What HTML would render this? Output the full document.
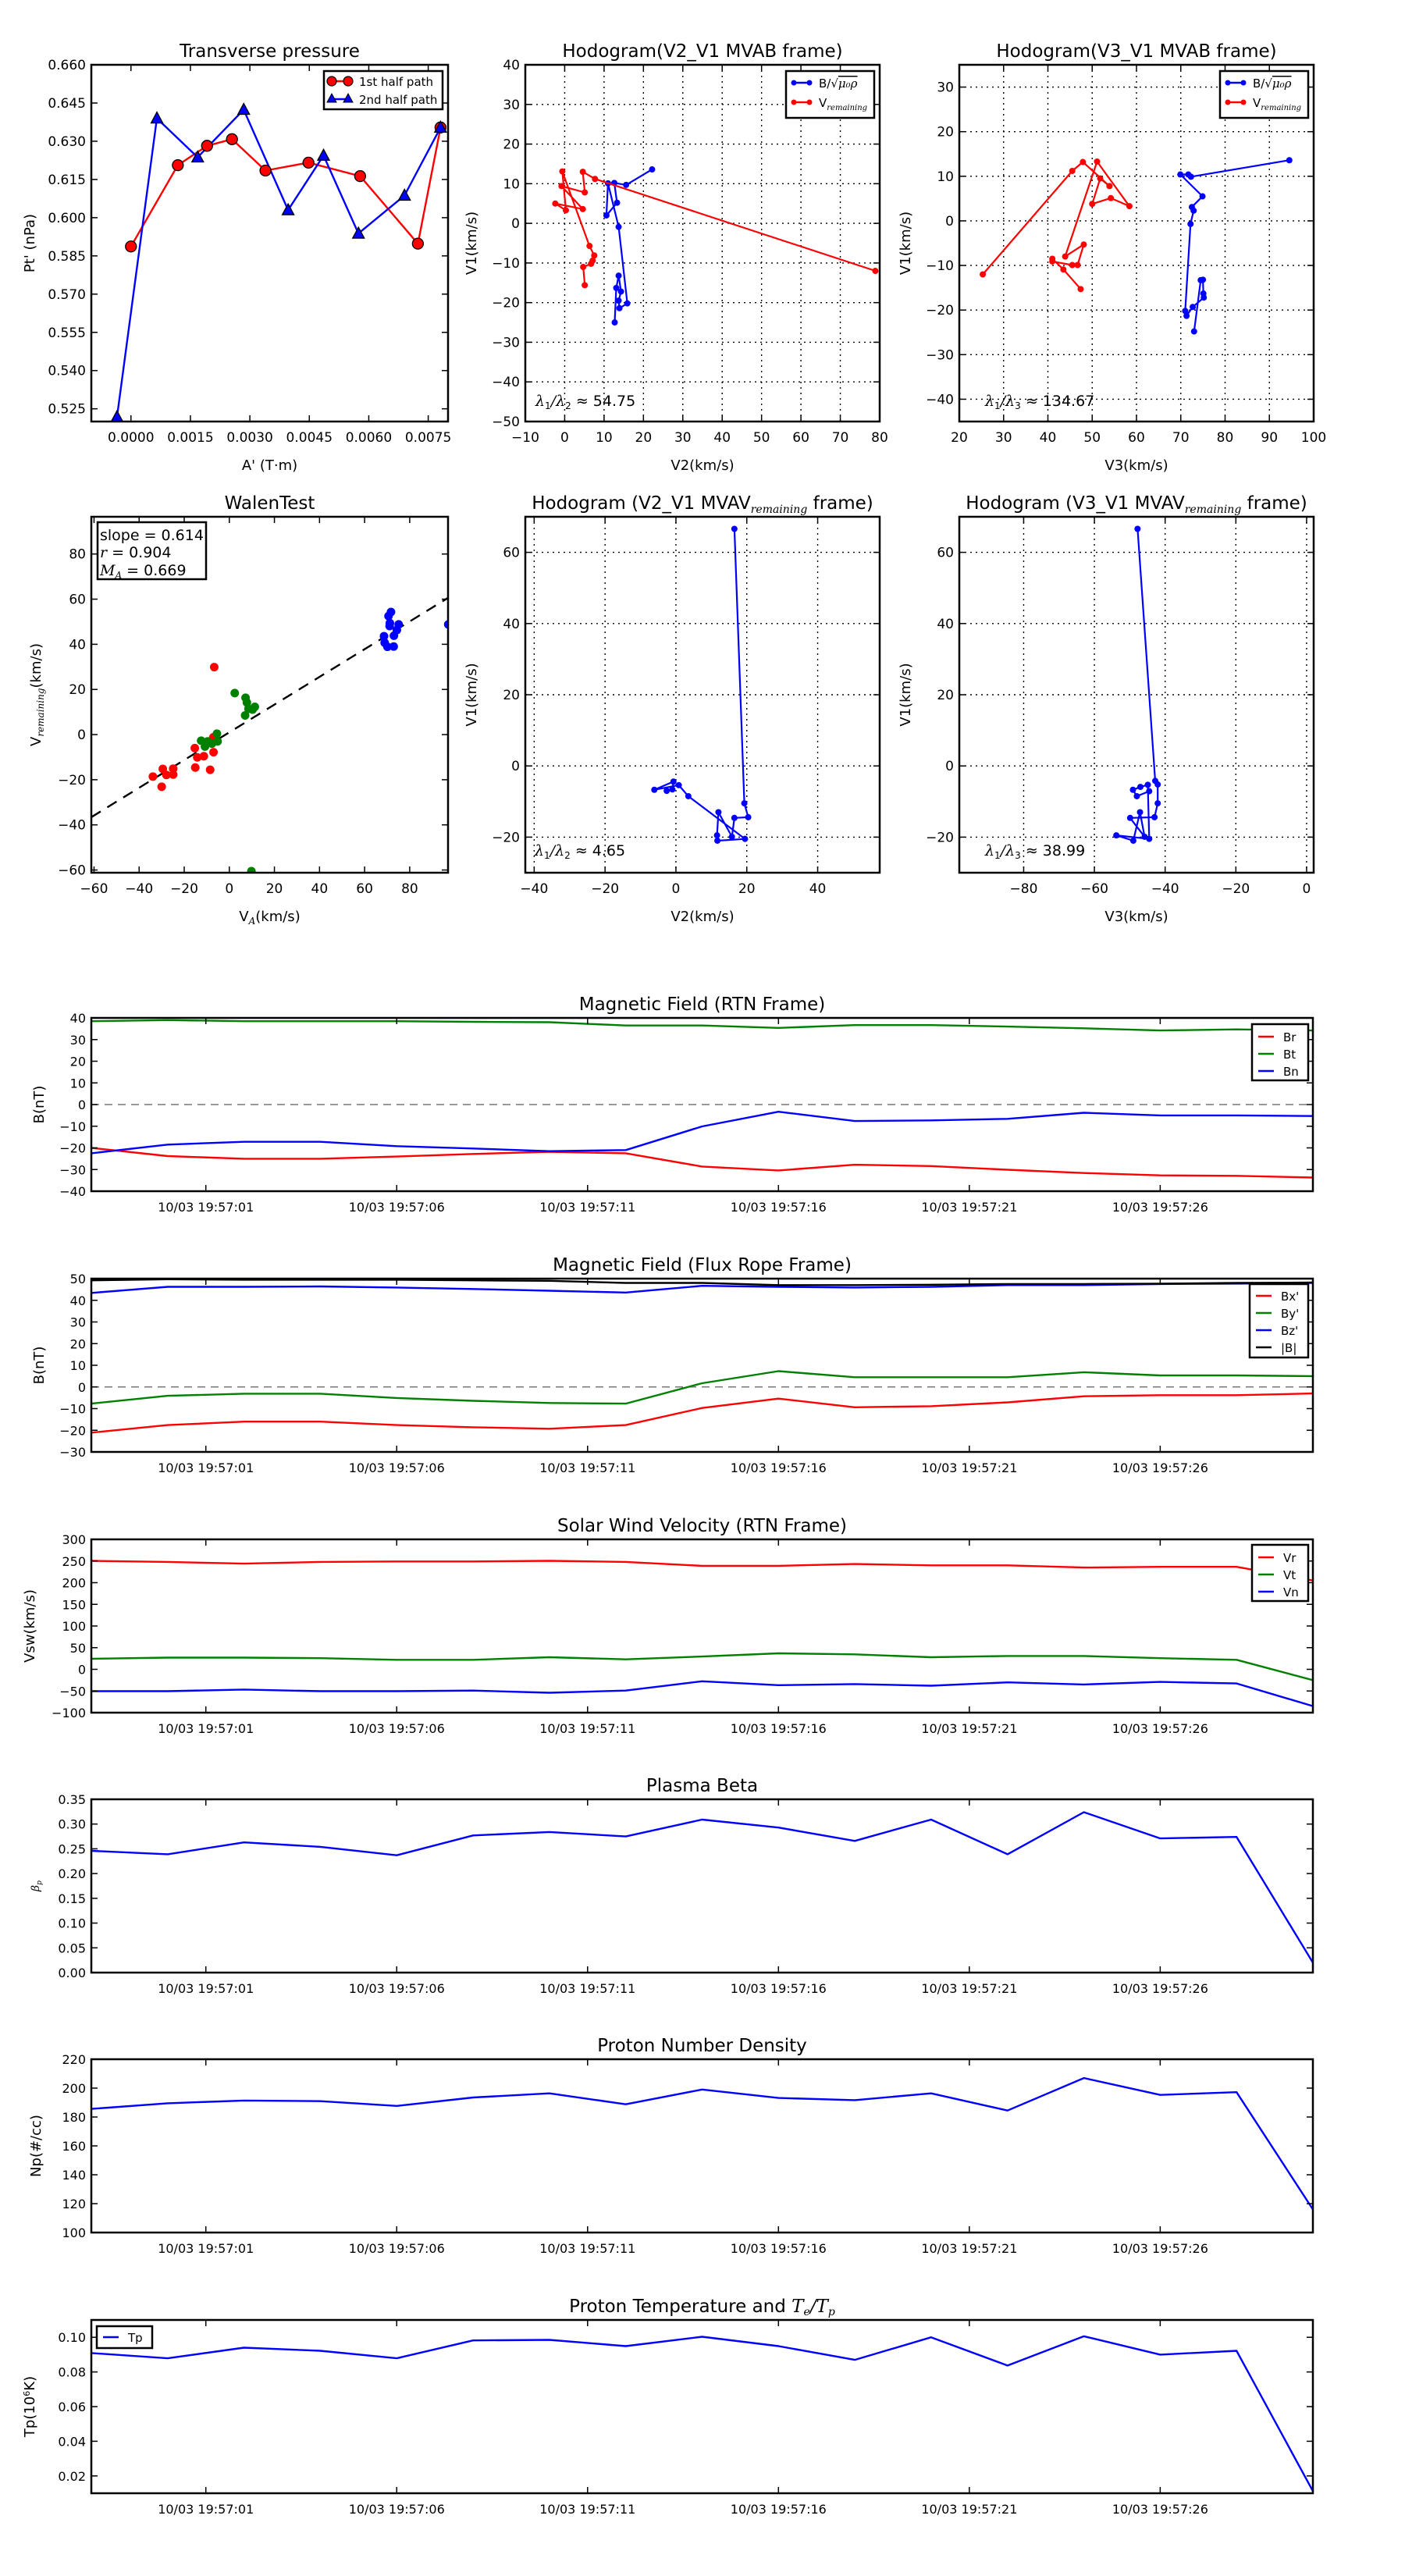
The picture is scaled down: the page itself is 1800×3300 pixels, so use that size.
<!DOCTYPE html>
<html><head><meta charset="utf-8"><title>Flux rope analysis</title>
<style>
html,body{margin:0;padding:0;background:#fff;}
svg{display:block;}
text{font-family:"DejaVu Sans","Liberation Sans",sans-serif;fill:#000;}
.m{font-family:"DejaVu Serif","Liberation Serif",serif;font-style:italic;}
</style></head>
<body>
<svg id="fig" xmlns="http://www.w3.org/2000/svg" width="1800" height="3300" viewBox="0 0 1800 3300">
<rect x="0" y="0" width="1800" height="3300" fill="#fff"/>
</svg>
<script>
// ---------- DATA ----------
const p1RedX=[0,0.001183,0.00192,0.002549,0.003394,0.004479,0.005782,0.007239,0.00781];
const p1RedY=[0.5887,0.6206,0.6282,0.6308,0.6185,0.6216,0.6163,0.5898,0.6354];
const p1BlueX=[-0.000352,0.000655,0.001683,0.002845,0.003965,0.004859,0.00574,0.006901,0.00781];
const p1BlueY=[0.5218,0.639,0.6237,0.6424,0.603,0.6244,0.5938,0.6087,0.6354];
const p2BX=[22.2,15.6,12.6,13.3,10.6,11.0,13.7,15.9,13.9,13.7,14.3,13.7,13.1,12.7];
const p2BY=[13.6,9.7,10.2,5.2,2.0,10.1,-0.9,-20.2,-21.4,-19.5,-17.2,-13.2,-16.3,-25.0];
const p2VX=[78.9,7.7,4.6,5.1,-0.8,4.6,-2.4,0.3,-0.6,6.3,7.5,7.1,6.7,4.7,5.1];
const p2VY=[-12.0,11.2,13.0,7.8,9.4,3.6,5.0,3.3,13.1,-5.7,-8.1,-9.4,-10.2,-11.0,-15.6];
const p3BX=[94.5,72.3,71.7,69.9,74.9,72.5,72.9,72.2,71.0,71.3,72.7,75.2,75.1,75.0,74.5,73.0];
const p3BY=[13.6,9.9,10.4,10.4,5.5,3.1,2.3,-0.7,-20.2,-21.3,-19.3,-17.2,-16.3,-13.2,-13.3,-24.8];
const p3VX=[25.3,45.5,47.9,53.9,51.8,50.0,54.2,58.4,51.1,43.9,48.1,46.7,45.5,41.0,41.0,43.5,47.4];
const p3VY=[-12.0,11.2,13.2,7.8,9.5,3.8,5.1,3.3,13.3,-8.0,-5.3,-9.9,-9.9,-9.1,-8.5,-10.9,-15.3];
const wRedX=[-6.7,-33.9,-30,-29.5,-27.9,-24.9,-24.9,-15.3,-15.1,-14.2,-11.3,-8.5,-7,-7.1];
const wRedY=[29.9,-18.6,-23.1,-15.2,-17.9,-15.1,-17.7,-6,-14.6,-10.1,-9.6,-15.6,-7.8,-1.2];
const wGreenX=[2.4,7.2,7.8,7,8.5,11.3,10.3,-12.5,-10.8,-9.6,-7.7,-5.5,-5.2,9.8];
const wGreenY=[18.4,16.3,14.2,8.5,11.4,12.3,11.1,-2.7,-5.3,-3,-4,0.4,-3,-60.5];
const wBlueX=[71.7,70.6,71.2,71.1,75.1,74.3,73,68.6,68.9,70.1,72.9,97.1];
const wBlueY=[54.3,52.5,49.4,48.1,48.8,46.3,43.8,43.6,40.7,38.9,39,48.8];
const wSlope=0.614, wIntercept=1.0;
const p5X=[16.5,19.3,20.4,16.5,15.8,12.0,11.6,11.7,19.5,3.5,0.8,-6.1,-0.7,-1.0,-2.6];
const p5Y=[66.6,-10.5,-14.4,-14.6,-19.9,-13.0,-19.5,-21.0,-20.5,-8.5,-5.4,-6.7,-4.4,-6.6,-7.0];
const p6X=[-47.8,-42.8,-42.1,-42.1,-43.0,-49.9,-45.8,-47.1,-49.0,-53.8,-44.5,-44.9,-47.0,-49.1,-48.0,-44.5];
const p6Y=[66.6,-4.2,-5.2,-10.5,-14.4,-14.6,-19.9,-13.0,-21.0,-19.5,-20.5,-5.3,-5.9,-6.7,-8.5,-7.1];
const tSec=[0,2,4,6,8,10,12,14,16,18,20,22,24,26,28,30,32];
const timeTicks=[3,8,13,18,23,28];
const timeLabels=["10/03 19:57:01","10/03 19:57:06","10/03 19:57:11","10/03 19:57:16","10/03 19:57:21","10/03 19:57:26"];
const Br=[-20,-23.8,-25,-25,-24,-22.8,-21.8,-22.5,-28.6,-30.4,-27.8,-28.4,-30.1,-31.6,-32.7,-32.9,-33.7];
const Bt=[38.5,39,38.5,38.5,38.5,38.2,38,36.5,36.5,35.4,36.7,36.7,36,35.2,34.2,34.7,34.2];
const Bn=[-22.5,-18.5,-17.2,-17.2,-19.2,-20.3,-21.5,-21,-10.1,-3.3,-7.6,-7.3,-6.6,-3.8,-5,-5,-5.3];
const Bx1=[-21.1,-17.6,-16,-16,-17.6,-18.6,-19.3,-17.6,-9.7,-5.4,-9.4,-8.9,-7.1,-4.3,-3.8,-3.8,-3];
const By1=[-7.7,-4.1,-3.1,-3.1,-5.1,-6.4,-7.4,-7.7,1.7,7.3,4.5,4.5,4.5,6.8,5.3,5.3,5];
const Bz1=[43.4,46.2,46.2,46.4,45.9,45.2,44.4,43.6,46.7,46.2,45.9,46.2,47,47,47.5,47.7,48];
const Bmag=[49.2,49.7,49.5,49.5,49.5,49.2,49,48,48,47,47,47.2,47.5,47.5,47.7,48,48.2];
const Vr=[250.5,248,244,248,249,249,250.5,248,239,239,243,240,240,235,236.5,236.5,205];
const Vt=[24.4,27,27,25.7,22,22,28,23,29.5,37,34.6,28,30.8,30.8,25.7,22,-25];
const Vn=[-50.5,-50.5,-46.7,-50.5,-50.5,-49,-54,-49,-27.6,-36.5,-34,-37.8,-30,-35,-29,-32.7,-84.8];
const beta=[0.246,0.239,0.263,0.254,0.237,0.277,0.284,0.275,0.309,0.293,0.266,0.309,0.239,0.324,0.271,0.274,0.02];
const Np=[185.6,189.5,191.4,191,187.7,193.5,196.4,188.8,199,193.2,191.7,196.4,184.5,207,195.3,197.2,116];
const Tp=[0.0909,0.0879,0.094,0.0922,0.0879,0.0982,0.0985,0.0949,0.1003,0.0949,0.087,0.1,0.0837,0.1006,0.09,0.0922,0.0112];

// ---------- HELPERS ----------
const NS='http://www.w3.org/2000/svg';
const fig=document.getElementById('fig');
let clipN=0;
function mk(tag,parent,attrs){const e=document.createElementNS(NS,tag);for(const k in attrs)e.setAttribute(k,attrs[k]);parent.appendChild(e);return e;}
function fmtMinus(s){return String(s).replace('-','\u2212');}
function txt(parent,x,y,s,size,anchor){const t=mk('text',parent,{x:x,y:y,'font-size':size,'text-anchor':anchor||'middle'});t.textContent=s;return t;}

function axes(c){
  const g=mk('g',fig,{});
  
  
  const sx=v=>c.x0+(v-c.xr[0])/(c.xr[1]-c.xr[0])*(c.x1-c.x0);
  const sy=v=>c.y1-(v-c.yr[0])/(c.yr[1]-c.yr[0])*(c.y1-c.y0);
  const id='clip'+(clipN++);
  const cp=mk('clipPath',g,{id:id});
  mk('rect',cp,{x:c.x0,y:c.y0,width:c.x1-c.x0,height:c.y1-c.y0});
  const gridG=mk('g',g,{});
  
  
  const dataG=mk('g',g,{'clip-path':'url(#'+id+')'});
  
  
  const frameG=mk('g',g,{});
  c.xticks.forEach((v,i)=>{
    const x=sx(v);
    if(c.grid){const gl=mk('line',gridG,{x1:x,x2:x,y1:c.y0,y2:c.y1,stroke:'#000','stroke-width':1.4,'stroke-dasharray':'2,5'});}
    mk('line',frameG,{x1:x,x2:x,y1:c.y1,y2:c.y1-8,stroke:'#000','stroke-width':1.5});
    mk('line',frameG,{x1:x,x2:x,y1:c.y0,y2:c.y0+8,stroke:'#000','stroke-width':1.5});
    const t=txt(frameG,x,c.y1+26,c.xlabels[i],c.tickSize||17,'middle');
    
  });
  c.yticks.forEach((v,i)=>{
    const y=sy(v);
    if(c.grid){const gl=mk('line',gridG,{x1:c.x0,x2:c.x1,y1:y,y2:y,stroke:'#000','stroke-width':1.4,'stroke-dasharray':'2,5'});}
    mk('line',frameG,{x1:c.x0,x2:c.x0+8,y1:y,y2:y,stroke:'#000','stroke-width':1.5});
    mk('line',frameG,{x1:c.x1,x2:c.x1-8,y1:y,y2:y,stroke:'#000','stroke-width':1.5});
    const t=txt(frameG,c.x0-7,y+6,c.ylabels[i],c.tickSize||17,'end');
    
  });
  const fr=mk('rect',frameG,{x:c.x0,y:c.y0,width:c.x1-c.x0,height:c.y1-c.y0,fill:'none',stroke:'#000','stroke-width':2.5});
  
  if(c.title){const t=mk('text',frameG,{x:(c.x0+c.x1)/2,y:c.y0-10,'font-size':23,'text-anchor':'middle'});t.innerHTML=c.title;}
  if(c.xlabel){const t=mk('text',frameG,{x:(c.x0+c.x1)/2,y:c.y1+62,'font-size':18,'text-anchor':'middle'});t.innerHTML=c.xlabel;}
  if(c.ylabel){const cy=(c.y0+c.y1)/2;const t=mk('text',frameG,{x:c.ylx,y:cy,'font-size':c.ylsize||18,'text-anchor':'middle',transform:'rotate(-90 '+c.ylx+' '+cy+')'});t.innerHTML=c.ylabel;}
  return {sx,sy,g,dataG,frameG};
}
function range(a,b,s){const r=[];for(let v=a;v<=b+1e-9;v+=s)r.push(+v.toFixed(6));return r;}
function line(A,xs,ys,color,w,name){
  const pts=xs.map((x,i)=>A.sx(x).toFixed(1)+','+A.sy(ys[i]).toFixed(1)).join(' ');
  const p=mk('polyline',A.dataG,{points:pts,fill:'none',stroke:color,'stroke-width':w||2.4,'stroke-linejoin':'round'});
  
  
  return p;
}
function dots(A,xs,ys,color,r,name,stroke){
  xs.forEach((x,i)=>{
    const c=mk('circle',A.dataG,{cx:A.sx(x),cy:A.sy(ys[i]),r:r,fill:color,stroke:stroke||'none','stroke-width':1.3});
    
    
  });
}
function tris(A,xs,ys,color,name){
  xs.forEach((x,i)=>{
    const cx=A.sx(x),cy=A.sy(ys[i]);
    const p=mk('path',A.dataG,{d:'M'+cx+','+(cy-8)+' L'+(cx+7.5)+','+(cy+6)+' L'+(cx-7.5)+','+(cy+6)+' Z',fill:color,stroke:'#000','stroke-width':1.3});
    
    
  });
}
function legendBox(parent,x,y,w,h,name){
  const g=mk('g',parent,{});
  
  
  mk('rect',g,{x:x,y:y,width:w,height:h,fill:'#fff',stroke:'#000','stroke-width':2.5});
  return g;
}
function legendItem(g,x,y,color,label,size,w,marker){
  mk('line',g,{x1:x,x2:x+(w||20),y1:y,y2:y,stroke:color,'stroke-width':2.4});
  if(marker==='dot'){mk('circle',g,{cx:x,cy:y,r:3.5,fill:color});mk('circle',g,{cx:x+w,cy:y,r:3.5,fill:color});}
  const t=mk('text',g,{x:x+(w||20)+12,y:y+6,'font-size':size||16});
  t.innerHTML=label;
  
  
}
const fmt=(d)=>(v=>fmtMinus(v.toFixed(d)));

// ---------- PANEL 1 ----------
{
  const xt=range(0,0.0075,0.0015), yt=range(0.525,0.66,0.015);
  const A=axes({name:'transverse-pressure-chart',x0:117,y0:83,x1:574,y1:540,xr:[-0.001,0.008],yr:[0.52,0.66],
    xticks:xt,xlabels:xt.map(fmt(4)),yticks:yt,ylabels:yt.map(fmt(3)),title:'Transverse pressure',xlabel:"A' (T·m)",ylabel:"Pt' (nPa)",ylx:44});
  line(A,p1RedX,p1RedY,'#ff0000',2.4,'first-half-path-line');
  line(A,p1BlueX,p1BlueY,'#0000ff',2.4,'second-half-path-line');
  dots(A,p1RedX,p1RedY,'#ff0000',7,'first-half-marker','#000');
  tris(A,p1BlueX,p1BlueY,'#0000ff','second-half-marker');
  const L=legendBox(A.frameG,415,91,152,49,'pressure-legend');
  mk('line',L,{x1:425,x2:446,y1:104,y2:104,stroke:'#ff0000','stroke-width':2.4});
  mk('circle',L,{cx:425,cy:104,r:6,fill:'#ff0000',stroke:'#000','stroke-width':1.2});
  mk('circle',L,{cx:446,cy:104,r:6,fill:'#ff0000',stroke:'#000','stroke-width':1.2});
  mk('line',L,{x1:425,x2:446,y1:127,y2:127,stroke:'#0000ff','stroke-width':2.4});
  mk('path',L,{d:'M425,120 L431,131 L419,131 Z',fill:'#0000ff',stroke:'#000','stroke-width':1});
  mk('path',L,{d:'M446,120 L452,131 L440,131 Z',fill:'#0000ff',stroke:'#000','stroke-width':1});
  const a=txt(L,460,110,'1st half path',15,'start');
  const b=txt(L,460,133,'2nd half path',15,'start');
}
// ---------- PANEL 2 ----------
{
  const xt=range(-10,80,10), yt=range(-50,40,10);
  const A=axes({name:'hodogram-v2-v1-mvab',x0:673,y0:83,x1:1127,y1:540,xr:[-10,80],yr:[-50,40],grid:true,
    xticks:xt,xlabels:xt.map(fmt(0)),yticks:yt,ylabels:yt.map(fmt(0)),title:'Hodogram(V2_V1 MVAB frame)',xlabel:'V2(km/s)',ylabel:'V1(km/s)',ylx:610});
  line(A,p2BX,p2BY,'#0000ff',2.2,'b-alfven-path');dots(A,p2BX,p2BY,'#0000ff',4,'b-alfven-point');
  line(A,p2VX,p2VY,'#ff0000',2.2,'v-remaining-path');dots(A,p2VX,p2VY,'#ff0000',4,'v-remaining-point');
  const L=legendBox(A.frameG,1007,91,113,60,'hodogram-legend');
  legendItem(L,1017,106,'#0000ff','B/√<tspan class="m" text-decoration="overline">μ₀ρ</tspan>',15,20,'dot');
  legendItem(L,1017,131,'#ff0000','V<tspan class="m" font-size="10" dy="4">remaining</tspan>',15,20,'dot');
  const t=mk('text',A.frameG,{x:686,y:520,'font-size':19});t.innerHTML='<tspan class="m">λ</tspan><tspan font-size="12" dy="4">1</tspan><tspan dy="-4" class="m">/λ</tspan><tspan font-size="12" dy="4">2</tspan><tspan dy="-4"> ≈ 54.75</tspan>';
  
}
// ---------- PANEL 3 ----------
{
  const xt=range(20,100,10), yt=range(-40,30,10);
  const A=axes({name:'hodogram-v3-v1-mvab',x0:1229,y0:83,x1:1683,y1:540,xr:[20,100],yr:[-45,35],grid:true,
    xticks:xt,xlabels:xt.map(fmt(0)),yticks:yt,ylabels:yt.map(fmt(0)),title:'Hodogram(V3_V1 MVAB frame)',xlabel:'V3(km/s)',ylabel:'V1(km/s)',ylx:1166});
  line(A,p3BX,p3BY,'#0000ff',2.2,'b-alfven-path');dots(A,p3BX,p3BY,'#0000ff',4,'b-alfven-point');
  line(A,p3VX,p3VY,'#ff0000',2.2,'v-remaining-path');dots(A,p3VX,p3VY,'#ff0000',4,'v-remaining-point');
  const L=legendBox(A.frameG,1563,91,113,60,'hodogram-legend');
  legendItem(L,1573,106,'#0000ff','B/√<tspan class="m" text-decoration="overline">μ₀ρ</tspan>',15,20,'dot');
  legendItem(L,1573,131,'#ff0000','V<tspan class="m" font-size="10" dy="4">remaining</tspan>',15,20,'dot');
  const t=mk('text',A.frameG,{x:1262,y:520,'font-size':19});t.innerHTML='<tspan class="m">λ</tspan><tspan font-size="12" dy="4">1</tspan><tspan dy="-4" class="m">/λ</tspan><tspan font-size="12" dy="4">3</tspan><tspan dy="-4"> ≈ 134.67</tspan>';
  
}
// ---------- WALEN ----------
{
  const xt=range(-60,80,20), yt=range(-60,80,20);
  const A=axes({name:'walen-test-chart',x0:117,y0:662,x1:574,y1:1118,xr:[-61.2,97],yr:[-61.2,96.5],
    xticks:xt,xlabels:xt.map(fmt(0)),yticks:yt,ylabels:yt.map(fmt(0)),title:'WalenTest',xlabel:'V<tspan class="m" font-size="12" dy="4">A</tspan><tspan dy="-4">(km/s)</tspan>',ylabel:'V<tspan class="m" font-size="12" dy="4">remaining</tspan><tspan dy="-4">(km/s)</tspan>',ylx:52});
  const fl=mk('line',A.dataG,{x1:A.sx(-61.2),y1:A.sy(wSlope*-61.2+wIntercept),x2:A.sx(97),y2:A.sy(wSlope*97+wIntercept),stroke:'#000','stroke-width':2.4,'stroke-dasharray':'14,10'});
  
  dots(A,wRedX,wRedY,'#ff0000',5.5,'walen-point-red');
  dots(A,wGreenX,wGreenY,'#008000',5.5,'walen-point-green');
  dots(A,wBlueX,wBlueY,'#0000ff',5.5,'walen-point-blue');
  const L=legendBox(A.frameG,125,669,139,73,'walen-stats-box');
  txt(L,128,692,'slope = 0.614',19,'start');
  const r=mk('text',L,{x:128,y:714,'font-size':19});r.innerHTML='<tspan class="m">r</tspan> = 0.904';
  const m=mk('text',L,{x:128,y:737,'font-size':19});m.innerHTML='<tspan class="m">M</tspan><tspan class="m" font-size="12" dy="4">A</tspan><tspan dy="-4"> = 0.669</tspan>';
}
// ---------- PANEL 5 ----------
{
  const xt=range(-40,40,20), yt=range(-20,60,20);
  const A=axes({name:'hodogram-v2-v1-mvav',x0:673,y0:662,x1:1127,y1:1118,xr:[-42.5,57.5],yr:[-30,70],grid:true,
    xticks:xt,xlabels:xt.map(fmt(0)),yticks:yt,ylabels:yt.map(fmt(0)),title:'Hodogram (V2_V1 MVAV<tspan class="m" font-size="14" dy="5">remaining</tspan><tspan dy="-5"> frame)</tspan>',xlabel:'V2(km/s)',ylabel:'V1(km/s)',ylx:610});
  line(A,p5X,p5Y,'#0000ff',2.2,'hodogram-path');dots(A,p5X,p5Y,'#0000ff',4,'hodogram-point');
  const t=mk('text',A.frameG,{x:685,y:1096,'font-size':19});t.innerHTML='<tspan class="m">λ</tspan><tspan font-size="12" dy="4">1</tspan><tspan dy="-4" class="m">/λ</tspan><tspan font-size="12" dy="4">2</tspan><tspan dy="-4"> ≈ 4.65</tspan>';
  
}
// ---------- PANEL 6 ----------
{
  const xt=range(-80,0,20), yt=range(-20,60,20);
  const A=axes({name:'hodogram-v3-v1-mvav',x0:1229,y0:662,x1:1683,y1:1118,xr:[-98.2,2],yr:[-30,70],grid:true,
    xticks:xt,xlabels:xt.map(fmt(0)),yticks:yt,ylabels:yt.map(fmt(0)),title:'Hodogram (V3_V1 MVAV<tspan class="m" font-size="14" dy="5">remaining</tspan><tspan dy="-5"> frame)</tspan>',xlabel:'V3(km/s)',ylabel:'V1(km/s)',ylx:1166});
  line(A,p6X,p6Y,'#0000ff',2.2,'hodogram-path');dots(A,p6X,p6Y,'#0000ff',4,'hodogram-point');
  const t=mk('text',A.frameG,{x:1262,y:1096,'font-size':19});t.innerHTML='<tspan class="m">λ</tspan><tspan font-size="12" dy="4">1</tspan><tspan dy="-4" class="m">/λ</tspan><tspan font-size="12" dy="4">3</tspan><tspan dy="-4"> ≈ 38.99</tspan>';
  
}
// ---------- TIME SERIES ----------
function ts(name,y0,yr,yt,yl,title,ylabel,ylx,ylsize){
  return axes({name:name,x0:117,y0:y0,x1:1682,y1:y0+222,xr:[0,32],yr:yr,xticks:timeTicks,xlabels:timeLabels,tickSize:16,
    yticks:yt,ylabels:yl,title:title,ylabel:ylabel,ylx:ylx,ylsize:ylsize});
}
function zero(A,name){const l=mk('line',A.dataG,{x1:A.sx(0),x2:A.sx(32),y1:A.sy(0),y2:A.sy(0),stroke:'#777','stroke-width':1.6,'stroke-dasharray':'10,7'});}
{
  const yt=range(-40,40,10);
  const A=ts('magnetic-field-rtn-chart',1304,[-40,40],yt,yt.map(fmt(0)),'Magnetic Field (RTN Frame)','B(nT)',56);
  zero(A,'zero-line');
  line(A,tSec,Br,'#ff0000',2.4,'br-line');line(A,tSec,Bt,'#008000',2.4,'bt-line');line(A,tSec,Bn,'#0000ff',2.4,'bn-line');
  const L=legendBox(A.frameG,1604,1312,72,72,'rtn-legend');
  legendItem(L,1612,1328,'#ff0000','Br',15,20);legendItem(L,1612,1350,'#008000','Bt',15,20);legendItem(L,1612,1372,'#0000ff','Bn',15,20);
}
{
  const yt=range(-30,50,10);
  const A=ts('magnetic-field-flux-rope-chart',1638,[-30,50],yt,yt.map(fmt(0)),'Magnetic Field (Flux Rope Frame)','B(nT)',56);
  zero(A,'zero-line');
  line(A,tSec,Bx1,'#ff0000',2.4,'bx-prime-line');line(A,tSec,By1,'#008000',2.4,'by-prime-line');line(A,tSec,Bz1,'#0000ff',2.4,'bz-prime-line');line(A,tSec,Bmag,'#000',2.4,'b-magnitude-line');
  const L=legendBox(A.frameG,1601,1645,75,94,'flux-rope-legend');
  legendItem(L,1609,1660,'#ff0000',"Bx'",15,20);legendItem(L,1609,1682,'#008000',"By'",15,20);legendItem(L,1609,1704,'#0000ff',"Bz'",15,20);legendItem(L,1609,1726,'#000','|B|',15,20);
}
{
  const yt=range(-100,300,50);
  const A=ts('solar-wind-velocity-chart',1972,[-100,300],yt,yt.map(fmt(0)),'Solar Wind Velocity (RTN Frame)','Vsw(km/s)',44);
  line(A,tSec,Vr,'#ff0000',2.4,'vr-line');line(A,tSec,Vt,'#008000',2.4,'vt-line');line(A,tSec,Vn,'#0000ff',2.4,'vn-line');
  const L=legendBox(A.frameG,1604,1979,72,72,'velocity-legend');
  legendItem(L,1612,1995,'#ff0000','Vr',15,20);legendItem(L,1612,2017,'#008000','Vt',15,20);legendItem(L,1612,2039,'#0000ff','Vn',15,20);
}
{
  const yt=range(0,0.35,0.05);
  const A=ts('plasma-beta-chart',2305,[0,0.35],yt,yt.map(fmt(2)),'Plasma Beta','<tspan class="m">β</tspan><tspan class="m" font-size="9" dy="3">p</tspan>',50,14);
  line(A,tSec,beta,'#0000ff',2.4,'beta-line');
}
{
  const yt=range(100,220,20);
  const A=ts('proton-density-chart',2638,[100,220],yt,yt.map(fmt(0)),'Proton Number Density','Np(#/cc)',52);
  line(A,tSec,Np,'#0000ff',2.4,'density-line');
}
{
  const yt=range(0.02,0.10,0.02);
  const A=ts('proton-temperature-chart',2972,[0.01,0.11],yt,yt.map(fmt(2)),'Proton Temperature and <tspan class="m">T</tspan><tspan class="m" font-size="14" dy="4">e</tspan><tspan dy="-4" class="m">/T</tspan><tspan class="m" font-size="14" dy="4">p</tspan>','Tp(10<tspan font-size="11" dy="-6">6</tspan><tspan dy="6">K)</tspan>',44);
  line(A,tSec,Tp,'#0000ff',2.4,'tp-line');
  const L=legendBox(A.frameG,124,2980,71,28,'tp-legend');
  legendItem(L,132,2994,'#0000ff','Tp',15,20);
}
</script>
</body></html>
